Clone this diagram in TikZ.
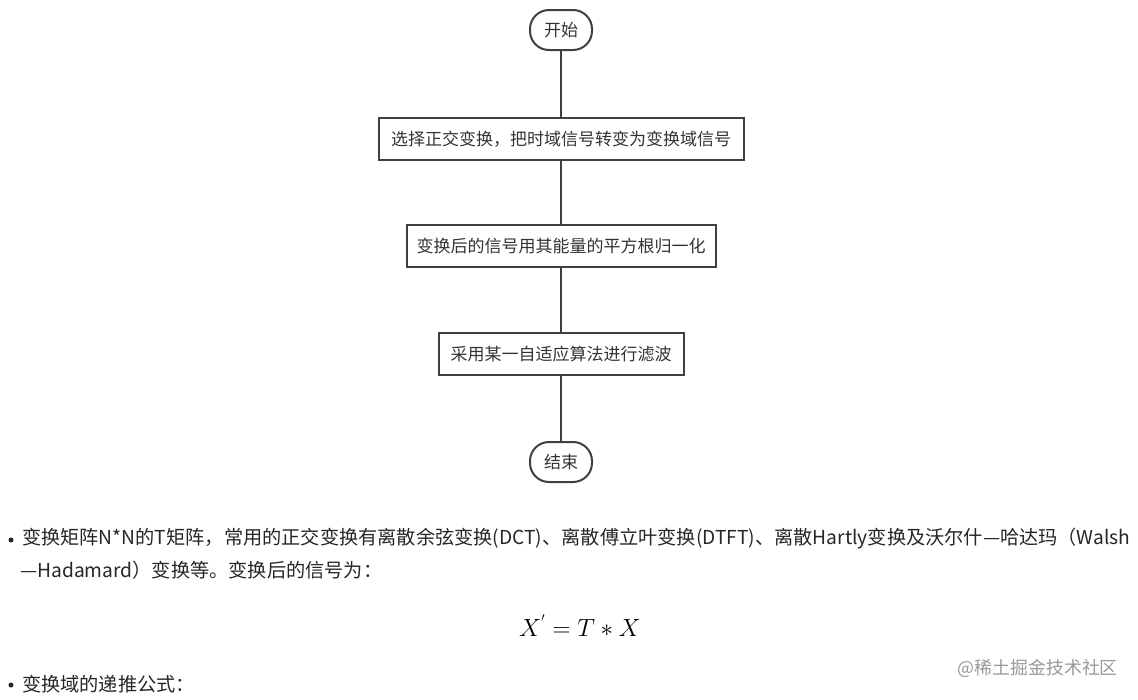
\documentclass[tikz,border=0pt]{standalone}
\usepackage{fontspec}
\setmainfont{Noto Sans CJK SC}
\begin{document}
\begin{tikzpicture}[x=1pt,y=-1pt,
  box/.style={draw=black!75,line width=2pt,fill=white,inner sep=0pt,font=\fontsize{17}{20}\selectfont,text=black!80},
  term/.style={box,rounded corners=19pt,minimum width=62pt,minimum height=40pt},
  proc/.style={box,minimum height=42pt},
  ln/.style={draw=black!75,line width=2pt},
  txt/.style={anchor=west,inner sep=0pt,font=\fontsize{19.2}{22}\selectfont,text=black!85}]
\useasboundingbox (0,0) rectangle (1138,699);
\node[term] (s) at (561,30) {开始};
\node[proc,minimum width=365pt] (b1) at (561,139) {选择正交变换，把时域信号转变为变换域信号};
\node[proc,minimum width=309pt] (b2) at (561,246) {变换后的信号用其能量的平方根归一化};
\node[proc,minimum width=245pt] (b3) at (561,354) {采用某一自适应算法进行滤波};
\node[term] (e) at (561,462) {结束};
\draw[ln] (s)--(b1); \draw[ln] (b1)--(b2); \draw[ln] (b2)--(b3); \draw[ln] (b3)--(e);
\fill[black!85] (11,540) circle (2.5pt);
\node[txt] (t1) at (22,539) {变换矩阵N*N的T矩阵，常用的正交变换有离散余弦变换(DCT)、离散傅立叶变换(DTFT)、离散Hartly变换及沃尔什—哈达玛（Walsh};
\node[txt] (t2) at (20,570) {—Hadamard）变换等。变换后的信号为：};
\node[inner sep=0pt,font=\fontsize{23}{27}\selectfont] (f) at (580,626) {$X^{'}=T*X$};
\fill[black!85] (11,685) circle (2.5pt);
\node[txt] (t3) at (22,684) {变换域的递推公式：};
\node[anchor=east,inner sep=0pt,font=\fontsize{17.9}{21}\selectfont,text=black!40] (w) at (1118,668) {@稀土掘金技术社区};
\end{tikzpicture}
\end{document}
